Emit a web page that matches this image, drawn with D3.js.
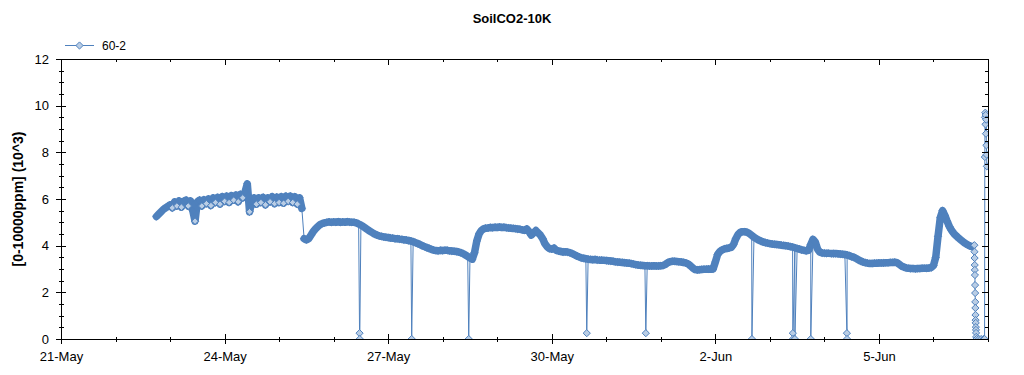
<!DOCTYPE html>
<meta charset="utf-8">
<style>
body { margin: 0; background: #fff; font-family: "Liberation Sans", Arial, sans-serif; }
.axis path, .axis line { stroke: #000; stroke-width: 1; shape-rendering: crispEdges; }
.axis text { font-size: 13px; fill: #000; font-family: "Liberation Sans", Arial, sans-serif; }
.title { font-size: 13px; font-weight: bold; }
.ylabel { font-size: 14px; font-weight: bold; }
.legend { font-size: 12px; }
</style>
<body>
<script src="https://cdn.jsdelivr.net/npm/d3@7"></script>
<script>
// logger readings, hourly, first one at 22-May 18:00 (hours counted from 21-May 00:00)
var seriesName = "60-2";
var firstHour = 42;
var co2 = [
  5.25,5.35,5.45,5.55,5.62,5.68,
  5.75,5.62,5.88,5.7,5.92,5.65,5.9,5.95,5.7,5.92,5.5,5.05,
  5.88,5.95,5.7,5.97,5.8,6.0,5.72,6.05,5.85,6.07,5.78,6.1,
  5.9,6.12,5.85,6.15,5.95,6.17,5.88,6.2,6.05,6.3,6.65,5.45,
  5.9,6.05,5.78,6.05,5.85,6.07,5.75,6.05,5.88,6.1,5.8,6.08,
  5.85,6.1,5.82,6.12,5.9,6.12,5.85,6.1,5.78,6.05,5.6,4.3,
  4.25,4.3,4.45,4.6,4.72,4.82,4.9,4.95,4.98,5.0,5.02,5.0,
  5.02,5.0,5.03,5.0,5.02,5.0,5.03,5.01,5.0,5.0,4.98,4.93,
  4.88,4.82,4.75,4.68,4.62,4.56,4.5,4.46,4.42,4.4,4.38,4.36,
  4.35,4.33,4.32,4.3,4.3,4.28,4.27,4.25,4.24,4.22,4.2,4.17,
  4.13,4.09,4.05,4.0,3.96,3.92,3.88,3.84,3.81,3.79,3.78,3.8,
  3.79,3.8,3.8,3.78,3.77,3.76,3.75,3.73,3.7,3.66,3.6,3.54,
  3.47,3.42,3.7,4.2,4.5,4.65,4.72,4.75,4.76,4.78,4.77,4.79,
  4.78,4.8,4.78,4.79,4.77,4.76,4.75,4.74,4.73,4.71,4.7,4.68,
  4.66,4.72,4.6,4.45,4.55,4.65,4.55,4.45,4.3,4.08,3.95,3.87,
  3.85,3.9,3.8,3.77,3.75,3.73,3.74,3.72,3.7,3.66,3.61,3.56,
  3.52,3.48,3.46,3.44,3.42,3.41,3.4,3.41,3.39,3.38,3.38,3.37,
  3.36,3.35,3.34,3.33,3.31,3.3,3.29,3.28,3.27,3.26,3.25,3.23,
  3.21,3.19,3.17,3.16,3.15,3.14,3.14,3.13,3.13,3.14,3.13,3.13,
  3.14,3.15,3.2,3.27,3.31,3.33,3.33,3.32,3.31,3.3,3.28,3.26,
  3.22,3.14,3.05,2.98,2.96,2.97,2.98,2.99,2.99,3.0,2.99,3.0,
  3.3,3.62,3.75,3.82,3.86,3.88,3.9,3.93,4.05,4.3,4.48,4.57,
  4.6,4.6,4.57,4.52,4.44,4.36,4.3,4.24,4.2,4.16,4.13,4.11,
  4.09,4.07,4.06,4.05,4.04,4.02,4.01,4.0,3.98,3.96,3.94,3.91,
  3.88,3.85,3.82,3.8,3.78,3.8,4.05,4.27,4.15,3.85,3.72,3.69,
  3.68,3.67,3.67,3.66,3.66,3.66,3.65,3.64,3.63,3.62,3.6,3.57,
  3.53,3.5,3.45,3.39,3.34,3.3,3.27,3.25,3.24,3.24,3.25,3.25,
  3.26,3.26,3.26,3.27,3.27,3.28,3.28,3.29,3.27,3.2,3.12,3.08,
  3.05,3.03,3.02,3.02,3.01,3.02,3.02,3.03,3.03,3.03,3.04,3.06,
  3.15,3.5,4.4,5.2,5.5,5.3,5.05,4.82,4.65,4.52,4.42,4.33,
  4.25,4.17,4.1,4.04,3.99,3.96
];
// single bad readings [hour, value]
var dropouts = [
  [131.4,0.25],[131.5,0],[154.35,0],[179.45,0],[231.4,0.25],[257.4,0.25],
  [304.1,0],[322.1,0.25],[322.15,0],[323.0,0],[330.0,0],[345.9,0.25],[345.95,0]
];
// last readings before the end [hour, value]
var tail = [
  [402.0,4.02],[402.05,3.74],[402.1,3.47],[402.15,3.17],[402.2,2.96],[402.25,2.74],
  [402.3,2.31],[402.35,1.97],[402.4,1.59],[402.45,1.33],[402.5,1.03],[402.55,0.81],
  [402.6,0.69],[402.65,0.51],[402.7,0.39],[402.75,0.26],[402.8,0.09],[403,0],[404,0],
  [405,0],[406,0],[406.5,0],[406.6,7.8],[406.7,9.5],[406.8,9.7],[406.9,9.2],[407.0,9.6],
  [407.1,8.8],[407.2,9.4],[407.3,8.3],[407.4,7.9],[407.5,7.4]
];
var xTickLabels = ["21-May","24-May","27-May","30-May","2-Jun","5-Jun"];
var yTicks = [0,2,4,6,8,10,12];

var margin = {top: 59, right: 36, bottom: 36, left: 61},
    width = 1024 - margin.left - margin.right,
    height = 375 - margin.top - margin.bottom;

var t0 = new Date(2013, 4, 21), t1 = new Date(2013, 5, 7);
function atHour(h) { return new Date(+t0 + h * 36e5); }

var hourly = co2.map(function(v, i) { return {t: atHour(firstHour + i), v: v}; });
var loose = dropouts.concat(tail).map(function(d) { return {t: atHour(d[0]), v: d[1]}; });
var pts = hourly.concat(loose).sort(function(a, b) { return a.t - b.t; });

// split the hourly run where it jumps, so the band breaks there
var runs = [[]];
hourly.forEach(function(d, i) {
  if (i > 0 && Math.abs(d.v - hourly[i - 1].v) > 1.25) runs.push([]);
  runs[runs.length - 1].push(d);
});
// in the noisy first stretch the low readings poke out under the band
var lows = runs[0].filter(function(d, i, a) {
  return i > 0 && i < a.length - 1 && d.v < a[i - 1].v && d.v < a[i + 1].v;
});

var x = d3.scaleTime().domain([t0, t1]).range([0, width]);
var y = d3.scaleLinear().domain([0, 12]).range([height, 0]);

var parseTick = d3.timeParse("%d-%b-%Y");
var majorX = xTickLabels.map(function(s) { return parseTick(s + "-2013"); });
var minorX = d3.timeDay.range(t0, d3.timeDay.offset(t1, 1));
var minorY = d3.range(0, 12.01, 0.5);

var svg = d3.select("body").append("svg")
    .attr("width", 1024).attr("height", 375);

svg.append("text").attr("class", "title")
    .attr("x", 512).attr("y", 23).attr("text-anchor", "middle")
    .text("SoilCO2-10K");

svg.append("text").attr("class", "ylabel")
    .attr("transform", "translate(23," + (margin.top + height / 2) + ") rotate(-90)")
    .attr("text-anchor", "middle")
    .text("[0-10000ppm] (10^3)");

var g = svg.append("g").attr("transform", "translate(" + margin.left + "," + margin.top + ")");

g.append("clipPath").attr("id", "plot").append("rect")
    .attr("width", width).attr("height", height);

function diamond(r) { return "M0," + (-r) + "L" + r + ",0L0," + r + "L" + (-r) + ",0Z"; }
function at(d) { return "translate(" + x(d.t) + "," + y(d.v) + ")"; }
var blue = "#4f81bd", pale = "#b9cde5";
var line = d3.line().x(function(d) { return x(d.t); }).y(function(d) { return y(d.v); });

var plot = g.append("g").attr("clip-path", "url(#plot)");
plot.append("path").datum(pts)
    .attr("fill", "none").attr("stroke", blue).attr("stroke-width", 1)
    .attr("d", line);
// the regular readings sit so close that their markers merge into one solid band
plot.selectAll(".band").data(runs).join("path")
    .attr("class", "band").attr("d", line)
    .attr("fill", "none").attr("stroke", blue).attr("stroke-width", 7.5)
    .attr("stroke-linejoin", "round").attr("stroke-linecap", "round");
plot.selectAll(".mark").data(hourly).join("path")
    .attr("class", "mark").attr("d", diamond(3.6)).attr("transform", at)
    .attr("fill", blue).attr("stroke", blue).attr("stroke-width", 1);
plot.selectAll(".low").data(lows).join("path")
    .attr("class", "low").attr("d", diamond(3.3)).attr("transform", at)
    .attr("fill", pale).attr("stroke", blue).attr("stroke-width", 1);
plot.selectAll(".loose").data(loose).join("path")
    .attr("class", "loose").attr("d", diamond(3.6)).attr("transform", at)
    .attr("fill", pale).attr("stroke", blue).attr("stroke-width", 1);

// minor ticks
g.append("g").attr("class", "axis").attr("transform", "translate(0," + height + ")")
    .call(d3.axisBottom(x).tickValues(minorX).tickFormat(""))
    .call(function(a) { a.select(".domain").remove(); a.selectAll(".tick line").attr("y1", -2.5).attr("y2", 2.5); });
g.append("g").attr("class", "axis")
    .call(d3.axisTop(x).tickValues(minorX).tickFormat("").tickSize(-3))
    .call(function(a) { a.select(".domain").remove(); });
g.append("g").attr("class", "axis")
    .call(d3.axisLeft(y).tickValues(minorY).tickFormat(""))
    .call(function(a) { a.select(".domain").remove(); a.selectAll(".tick line").attr("x1", -2.5).attr("x2", 2.5); });
g.append("g").attr("class", "axis").attr("transform", "translate(" + width + ",0)")
    .call(d3.axisRight(y).tickValues(minorY).tickFormat("").tickSize(-3))
    .call(function(a) { a.select(".domain").remove(); });

// major ticks and frame
g.append("g").attr("class", "axis").attr("transform", "translate(0," + height + ")")
    .call(d3.axisBottom(x).tickValues(majorX).tickSizeOuter(0).tickFormat(d3.timeFormat("%-d-%b")))
    .call(function(a) {
      a.selectAll(".tick line").attr("y1", -5).attr("y2", 5);
      a.selectAll(".tick text").attr("y", 13);
    });
g.append("g").attr("class", "axis")
    .call(d3.axisTop(x).tickValues(majorX).tickSizeOuter(0).tickSizeInner(-6).tickFormat(""));
g.append("g").attr("class", "axis")
    .call(d3.axisLeft(y).tickValues(yTicks).tickSizeOuter(0))
    .call(function(a) {
      a.selectAll(".tick line").attr("x1", -5).attr("x2", 5);
      a.selectAll(".tick text").attr("x", -12);
    });
g.append("g").attr("class", "axis").attr("transform", "translate(" + width + ",0)")
    .call(d3.axisRight(y).tickValues(yTicks).tickSizeOuter(0).tickSizeInner(-6).tickFormat(""));

// legend
var lg = svg.append("g").attr("transform", "translate(65,45.5)");
lg.append("line").attr("x1", 0).attr("x2", 29).attr("stroke", blue).attr("stroke-width", 1);
lg.append("path").attr("d", diamond(3.6)).attr("transform", "translate(14.5,0)")
    .attr("fill", pale).attr("stroke", blue);
lg.append("text").attr("class", "legend").attr("x", 37).attr("y", 4.5).text(seriesName);
</script>
</body>
